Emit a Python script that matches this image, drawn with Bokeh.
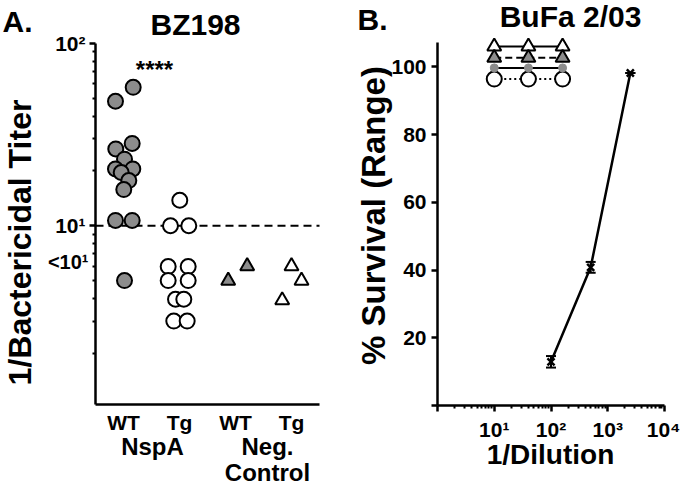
import math
from bokeh.plotting import figure
from bokeh.models import (Range1d, FixedTicker, Label, Whisker, ColumnDataSource, TeeHead,
                          LinearAxis, LogAxis)
from bokeh.layouts import row
from bokeh.embed import file_html
from bokeh.resources import INLINE

FONT = "Liberation Sans"
H = 484
W = 340

# ---------------- Panel A data ----------------
group_ticks = [1, 2, 3, 4]
group_tick_labels = ["WT", "Tg", "WT", "Tg"]
nspa_wt_x = [1.173, 0.857, 0.862, 1.155, 1.018, 0.857, 1.166, 0.959, 1.095, 1.005, 0.857, 1.155, 1.018]
nspa_wt_y = [57.5, 48.2, 26.4, 28.3, 23.2, 20.5, 20.5, 19.6, 17.7, 15.8, 10.7, 10.7, 5.0]
nspa_tg_x = [2.005, 1.839, 2.166, 1.798, 2.155, 1.798, 2.155, 1.929, 2.077, 1.898, 2.137]
nspa_tg_y = [13.8, 10.0, 10.0, 5.97, 5.97, 5.0, 5.0, 3.95, 3.95, 3.0, 3.0]
neg_wt_x = [2.87, 3.209]
neg_wt_y = [5.0, 6.0]
neg_tg_x = [4.0, 4.179, 3.834]
neg_tg_y = [6.0, 5.0, 3.9]
cutoff = 10
a_xlim = (0.5, 4.5)
a_ylim = (1.045, 100)
a_yticks = [10, 100]
a_ytick_labels = ["10¹", "10²"]
a_yminor = [2, 3, 4, 5, 6, 7, 8, 9, 20, 30, 40, 50, 60, 70, 80, 90]

# ---------------- Panel B data ----------------
dilutions = [10, 40, 160]
ctrl_open_tri = [106.0, 106.0, 106.0]
ctrl_gray_tri = [102.7, 102.7, 102.7]
ctrl_gray_circ = [99.7, 99.7, 99.7]
ctrl_open_circ = [96.4, 96.4, 96.4]
curve_x = [100, 500, 2500]
curve_y = [12.9, 40.8, 98.2]
curve_lo = [11.2, 39.2, 98.2]
curve_hi = [14.6, 42.4, 98.2]
b_xlim = (1, 10000)
b_ylim = (0, 107.2)
b_xticks = [1, 10, 100, 1000, 10000]
b_xtick_labels = ["", "10¹", "10²", "10³", "10⁴"]
b_xminor = [2, 3, 4, 5, 6, 7, 8, 9, 20, 30, 40, 50, 60, 70, 80, 90,
            200, 300, 400, 500, 600, 700, 800, 900, 2000, 3000, 4000, 5000, 6000, 7000, 8000, 9000]
b_yticks = [0, 20, 40, 60, 80, 100]

GRAY = "#8c8c8c"

# plot-area placement on each canvas (pixels): left, right, top, bottom
A_BOX = (95, 319, 43, 404)
B_BOX = (97, 324, 42, 405)


def span(lo, hi, p_lo, p_hi, size):
    """Range end values so that lo sits at pixel p_lo and hi at p_hi of a canvas of given size."""
    k = (hi - lo) / (p_hi - p_lo)
    return lo - p_lo * k, hi + (size - p_hi) * k


def style_axis(ax):
    ax.axis_line_width = 2.5
    ax.axis_line_color = "black"
    ax.major_tick_line_width = 2.5
    ax.minor_tick_line_width = 2
    ax.major_tick_in = 0
    ax.minor_tick_in = 0
    ax.major_tick_out = 6
    ax.minor_tick_out = 3
    ax.major_label_text_font = FONT
    ax.major_label_text_font_style = "bold"
    ax.major_label_text_font_size = "21px"
    ax.major_label_text_color = "black"


def lab(p, x, y, text, size, align="center", baseline="alphabetic", angle=0.0):
    p.add_layout(Label(x=x, y=y, x_units="canvas", y_units="canvas", text=text,
                       text_font=FONT, text_font_style="bold", text_font_size=size,
                       text_align=align, text_baseline=baseline, angle=angle,
                       text_color="black"))


def base_fig(x_range, y_range, x_type, y_type):
    p = figure(width=W, height=H, output_backend="svg", toolbar_location=None, title=None,
               x_range=x_range, y_range=y_range, x_axis_type=x_type, y_axis_type=y_type,
               x_axis_location=None, y_axis_location=None,
               min_border_left=0, min_border_right=0, min_border_top=0, min_border_bottom=0)
    p.grid.visible = False
    p.outline_line_color = None
    return p


# ================= Panel A =================
L, R, T, B = A_BOX
x0, x1 = span(a_xlim[0], a_xlim[1], L, R, W)
ytop, ybot = span(math.log10(a_ylim[1]), math.log10(a_ylim[0]), T, B, H)
pA = base_fig(Range1d(x0, x1), Range1d(10 ** ybot, 10 ** ytop), "linear", "log")

ax_x = LinearAxis(fixed_location=a_ylim[0], bounds=a_xlim,
                  ticker=FixedTicker(ticks=group_ticks),
                  major_label_overrides={t: s for t, s in zip(group_ticks, group_tick_labels)})
style_axis(ax_x)
ax_x.major_tick_out = 0
ax_x.major_label_standoff = 6
pA.add_layout(ax_x, "below")

ax_y = LogAxis(fixed_location=a_xlim[0], bounds=a_ylim,
               ticker=FixedTicker(ticks=a_yticks, minor_ticks=a_yminor),
               major_label_overrides={t: s for t, s in zip(a_yticks, a_ytick_labels)})
style_axis(ax_y)
ax_y.major_label_standoff = 4
pA.add_layout(ax_y, "left")

pA.line(x=list(a_xlim), y=[cutoff, cutoff], line_color="black", line_width=2, line_dash="8 5")
pA.scatter(nspa_wt_x, nspa_wt_y, marker="circle", size=15, fill_color=GRAY,
           line_color="black", line_width=2)
pA.scatter(nspa_tg_x, nspa_tg_y, marker="circle", size=15, fill_color="white",
           line_color="black", line_width=2)
pA.scatter(neg_wt_x, neg_wt_y, marker="triangle", size=14, fill_color=GRAY,
           line_color="black", line_width=2)
pA.scatter(neg_tg_x, neg_tg_y, marker="triangle", size=14, fill_color="white",
           line_color="black", line_width=2)

lab(pA, 2, 21, "A.", "30px", align="left")
lab(pA, 195, 24, "BZ198", "30px")
lab(pA, 154, 69, "****", "24px")
lab(pA, 88, 261, "<10¹", "20px", align="right", baseline="middle")
lab(pA, 19, 242, "1/Bactericidal Titer", "32px", baseline="middle", angle=math.pi / 2)
lab(pA, 152, 446, "NspA", "24px")
lab(pA, 267, 446, "Neg.", "24px")
lab(pA, 267, 472, "Control", "24px")

# ================= Panel B =================
L, R, T, B = B_BOX
xl0, xl1 = span(math.log10(b_xlim[0]), math.log10(b_xlim[1]), L, R, W)
ytopB, ybotB = span(b_ylim[1], b_ylim[0], T, B, H)
pB = base_fig(Range1d(10 ** xl0, 10 ** xl1), Range1d(ybotB, ytopB), "log", "linear")

bx = LogAxis(fixed_location=b_ylim[0], bounds=b_xlim,
             ticker=FixedTicker(ticks=b_xticks, minor_ticks=b_xminor),
             major_label_overrides={t: s for t, s in zip(b_xticks, b_xtick_labels)})
style_axis(bx)
bx.major_label_standoff = 6
pB.add_layout(bx, "below")

by = LinearAxis(fixed_location=b_xlim[0], bounds=b_ylim,
                ticker=FixedTicker(ticks=b_yticks), major_label_overrides={0: ""})
style_axis(by)
by.major_label_standoff = 5
pB.add_layout(by, "left")

pB.line(dilutions, ctrl_open_circ, line_color="black", line_width=2, line_dash="2 3")
pB.scatter(dilutions, ctrl_open_circ, marker="circle", size=15, fill_color="white",
           line_color="black", line_width=2)
pB.line(dilutions, ctrl_gray_circ, line_color="black", line_width=2)
pB.scatter(dilutions, ctrl_gray_circ, marker="circle", size=8, fill_color=GRAY,
           line_color=GRAY, line_width=1)
pB.line(dilutions, ctrl_open_tri, line_color="black", line_width=2)
pB.scatter(dilutions, ctrl_open_tri, marker="triangle", size=14, fill_color="white",
           line_color="black", line_width=2)
pB.line(dilutions, ctrl_gray_tri, line_color="black", line_width=2, line_dash="7 4")
pB.scatter(dilutions, ctrl_gray_tri, marker="triangle", size=14, fill_color=GRAY,
           line_color="black", line_width=2)

src = ColumnDataSource(dict(x=curve_x, y=curve_y, lo=curve_lo, hi=curve_hi))
pB.line("x", "y", source=src, line_color="black", line_width=2.5)
pB.add_layout(Whisker(base="x", lower="lo", upper="hi", source=src, line_width=2,
                      upper_head=TeeHead(size=10, line_width=2),
                      lower_head=TeeHead(size=10, line_width=2)))
pB.scatter("x", "y", source=src, marker="x", size=10, line_color="black", line_width=2.5)

lab(pB, 17, 19, "B.", "30px", align="left")
lab(pB, 230, 16, "BuFa 2/03", "30px")
lab(pB, 33, 215, "% Survival (Range)", "33px", baseline="middle", angle=math.pi / 2)
lab(pB, 210, 454, "1/Dilution", "28px")

layout = row(pA, pB)
open("out.html", "w").write(file_html(layout, INLINE))
